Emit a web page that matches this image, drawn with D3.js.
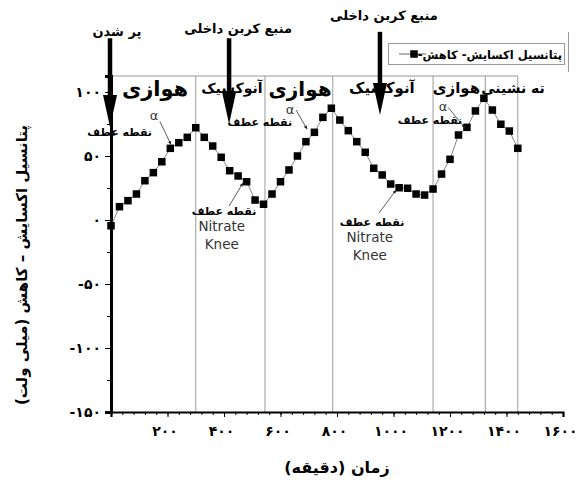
<!DOCTYPE html>
<html>
<head>
<meta charset="utf-8">
<script src="https://cdn.jsdelivr.net/npm/d3@7"></script>
<style>
  html, body { margin: 0; padding: 0; background: #fff; }
  svg { display: block; }
  text { font-family: "DejaVu Sans", sans-serif; }
</style>
</head>
<body>
<svg id="chart" width="587" height="484"></svg>
<script>
// ORP readings, one every 30 minutes over a full cycle
const times = [0, 30, 60, 90, 120, 150, 180, 210, 240, 270, 300, 330, 360, 390, 420, 450, 480,
  510, 540, 570, 600, 630, 660, 690, 720, 750, 780, 810, 840, 870, 900, 930, 960, 990, 1020,
  1050, 1080, 1110, 1140, 1170, 1200, 1230, 1260, 1290, 1320, 1350, 1380, 1410, 1440];
const orp = [-4.5, 10.4, 15.1, 20.3, 30.7, 37, 45.5, 56, 60.4, 64.6, 72.1, 64.6, 57.8, 49, 38.5,
  34.4, 29.9, 15.6, 12.3, 20.3, 29.9, 39.1, 50, 61.2, 68.5, 80.2, 87.3, 78.1, 69.8, 61.2, 52.9,
  40.4, 35.2, 28.1, 25.2, 24.8, 20.3, 19.5, 24.2, 35.9, 47.4, 66.4, 72.4, 85.2, 95.1, 85.9,
  74.8, 69.5, 56];

// phase boundaries (minutes) and phase names
const phaseEdges = [300, 545, 785, 1140, 1325, 1440];
const phaseNames = ["هوازی", "آنوکسیک", "هوازی", "آنوکسیک", "هوازی", "ته نشینی"];
const phaseLabelT = [156, 428, 669, 959, 1223, 1423];
const phaseLabelV = [97, 99, 96.5, 99, 99, 99];
const phaseLabelSize = [21, 14, 20, 15, 15, 14];

// tick values
const xTicks = [200, 400, 600, 800, 1000, 1200, 1400, 1600];
const yTicks = [-150, -100, -50, 0, 50, 100];

const seriesName = "پتانسیل اکسایش- کاهش-";
const xTitle = "زمان (دقیقه)";
const yTitle = "پتانسیل اکسایش – کاهش (میلی ولت)";

const faDigits = "۰۱۲۳۴۵۶۷۸۹";
const fa = n => String(n).replace(/\d/g, d => faDigits[+d]);

const svg = d3.select("#chart");
const x = d3.scaleLinear().domain([0, 1600]).range([111, 563]);
const y = d3.scaleLinear().domain([-150, 112.5]).range([412, 76]);

// phase separators and top frame line
svg.selectAll("line.phase").data(phaseEdges).join("line")
  .attr("x1", d => x(d)).attr("x2", d => x(d))
  .attr("y1", y(112.5)).attr("y2", y(-150))
  .attr("stroke", "#9a9a9a").attr("stroke-width", 1);
svg.append("line")
  .attr("x1", x(0)).attr("x2", x(1440))
  .attr("y1", y(112.5)).attr("y2", y(112.5))
  .attr("stroke", "#9a9a9a").attr("stroke-width", 1);

// x axis
const xAxis = svg.append("g").attr("transform", `translate(0,${y(-150)})`);
xAxis.call(d3.axisBottom(x).tickValues(d3.range(0, 1601, 40)).tickSize(3).tickFormat(""));
xAxis.call(g => g.select(".domain").remove());
const xMajor = svg.append("g").attr("transform", `translate(0,${y(-150)})`)
  .call(d3.axisBottom(x).tickValues(xTicks).tickSize(5).tickPadding(9).tickFormat(fa));
xMajor.select(".domain").attr("stroke-width", 2.2);
xMajor.selectAll("text").attr("font-size", 14).attr("font-weight", "bold").attr("fill", "#000")
  .attr("dx", -3);

// y axis
svg.append("g").attr("transform", `translate(${x(0)},0)`)
  .call(d3.axisLeft(y).tickValues(d3.range(-150, 101, 25)).tickSize(4).tickFormat(""))
  .call(g => g.select(".domain").remove());
const yAxis = svg.append("g").attr("transform", `translate(${x(0)},0)`)
  .call(d3.axisLeft(y).tickValues(yTicks).tickSize(6).tickPadding(4)
    .tickFormat(d => (d < 0 ? "-" : "") + fa(Math.abs(d))));
yAxis.select(".domain").attr("stroke-width", 3);
yAxis.selectAll("text").attr("font-size", 14).attr("font-weight", "bold")
  .attr("fill", "#000").attr("direction", "ltr");

// phase labels
svg.selectAll("text.phaseLabel").data(phaseNames).join("text")
  .attr("x", (d, i) => x(phaseLabelT[i]))
  .attr("y", (d, i) => y(phaseLabelV[i]))
  .attr("text-anchor", "middle")
  .attr("font-weight", "bold")
  .attr("font-size", (d, i) => phaseLabelSize[i])
  .text(d => d);

// series line and square markers
const pts = times.map((t, i) => [t, orp[i]]);
svg.append("path").datum(pts)
  .attr("d", d3.line().x(d => x(d[0])).y(d => y(d[1])))
  .attr("fill", "none").attr("stroke", "#666").attr("stroke-width", 0.8);
const ms = 7.5;
svg.selectAll("rect.pt").data(pts).join("rect")
  .attr("x", d => x(d[0]) - ms / 2).attr("y", d => y(d[1]) - ms / 2)
  .attr("width", ms).attr("height", ms).attr("fill", "#000");

// small-headed leader lines for the annotations
const defs = svg.append("defs");
defs.append("marker").attr("id", "tip").attr("viewBox", "0 0 10 10")
  .attr("refX", 9).attr("refY", 5).attr("markerWidth", 5).attr("markerHeight", 5)
  .attr("orient", "auto")
  .append("path").attr("d", "M0,1 L10,5 L0,9 Z").attr("fill", "#222");

function leader(t1, v1, t2, v2) {
  svg.append("line")
    .attr("x1", x(t1)).attr("y1", y(v1)).attr("x2", x(t2)).attr("y2", y(v2))
    .attr("stroke", "#333").attr("stroke-width", 0.8).attr("marker-end", "url(#tip)");
}
function label(t, v, str, size, anchor, opts = {}) {
  svg.append("text").attr("x", x(t)).attr("y", y(v))
    .attr("text-anchor", anchor).attr("font-size", size)
    .attr("font-weight", opts.weight || "bold")
    .attr("font-family", opts.family || null)
    .attr("fill", opts.fill || "#000")
    .text(str);
}

// inflection points (α) in the aerobic phases
const alphaT = [152, 634, 1175];
const alphaV = [78, 82.5, 85];
const alphaTextT = [145, 527, 1129];
const alphaTextV = [65.6, 73.4, 75];
const alphaTextAnchor = ["end", "middle", "middle"];
const alphaLeader = [[173, 77, 212, 59], [655, 86, 694, 71], [1193, 88, 1253, 72]];
alphaT.forEach((t, i) => {
  label(t, alphaV[i], "α", 13, "middle", { weight: "normal", family: "Liberation Serif", fill: "#333" });
  label(alphaTextT[i], alphaTextV[i], "نقطه عطف", 11, alphaTextAnchor[i]);
  leader(...alphaLeader[i]);
});

// nitrate knees in the anoxic phases
const kneeT = [400, 924];
const kneeV = [3.9, -4.7];
const kneeLeader = [[418, 10.9, 467, 28.9], [949, 5.5, 1009, 23.4]];
kneeT.forEach((t, i) => {
  label(t, kneeV[i], "نقطه عطف", 11, "middle");
  label(t - 8, kneeV[i] - 12.5, "Nitrate", 13.5, "middle", { weight: "normal", family: "Liberation Sans", fill: "#333" });
  label(t - 8, kneeV[i] - 26.6, "Knee", 13.5, "middle", { weight: "normal", family: "Liberation Sans", fill: "#333" });
  leader(...kneeLeader[i]);
});

// event arrows above the plot
const eventNames = ["پر شدن", "منبع کربن داخلی", "منبع کربن داخلی"];
const eventT = [0, 418, 952];
const eventTop = [142, 142, 147];
const eventTip = [72.7, 75, 82];
const eventTextT = [21, 450, 966];
const eventTextV = [143.5, 146, 156];
eventT.forEach((t, i) => {
  const ax = x(t) - (i === 0 ? 1 : 0);
  const yTop = y(eventTop[i]), yTip = y(eventTip[i]);
  svg.append("line").attr("x1", ax).attr("x2", ax).attr("y1", yTop).attr("y2", yTip - 28)
    .attr("stroke", "#000").attr("stroke-width", 4.5);
  svg.append("path")
    .attr("d", `M${ax - 7},${yTip - 32} L${ax + 7},${yTip - 32} L${ax},${yTip} Z`)
    .attr("fill", "#000");
  label(eventTextT[i], eventTextV[i], eventNames[i], 13, "middle");
});

// legend
const lg = svg.append("g");
lg.append("rect").attr("x", 388.5).attr("y", 43.5).attr("width", 176).attr("height", 21)
  .attr("fill", "#fff").attr("stroke", "#999").attr("stroke-width", 1);
lg.append("line").attr("x1", 568.5).attr("x2", 568.5).attr("y1", 32).attr("y2", 72)
  .attr("stroke", "#999").attr("stroke-width", 1);
lg.append("line").attr("x1", 399).attr("x2", 426).attr("y1", 54).attr("y2", 54)
  .attr("stroke", "#666").attr("stroke-width", 1);
lg.append("rect").attr("x", 414 - ms / 2).attr("y", 54 - ms / 2).attr("width", ms).attr("height", ms)
  .attr("fill", "#000");
lg.append("text").attr("x", 562).attr("y", 58.5)
  .attr("direction", "rtl").attr("text-anchor", "start")
  .attr("font-size", 11.5).attr("font-weight", "bold").text(seriesName);

// axis titles
svg.append("text").attr("x", 337).attr("y", 473).attr("text-anchor", "middle")
  .attr("font-size", 16).attr("font-weight", "bold").text(xTitle);
svg.append("text").attr("transform", "translate(27,265) rotate(-90)")
  .attr("direction", "rtl")
  .attr("text-anchor", "middle").attr("font-size", 15).attr("font-weight", "bold").text(yTitle);
</script>
</body>
</html>
